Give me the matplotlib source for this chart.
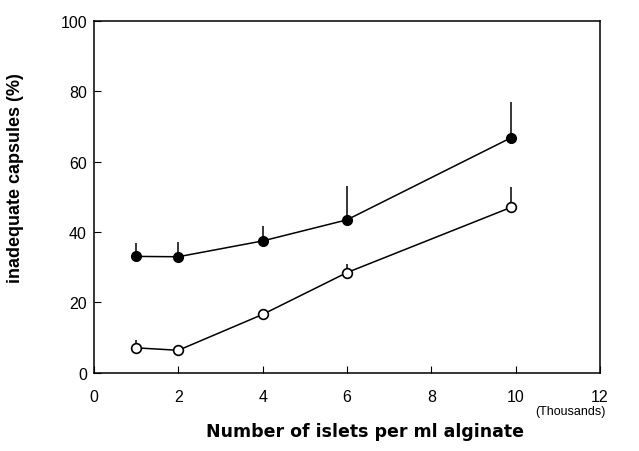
import numpy as np
import matplotlib.pyplot as plt

plt.rcParams['font.family'] = ['Liberation Sans', 'DejaVu Sans']

# islets per ml alginate (thousands)
x_vals = [1, 2, 4, 6, 9.9]
filled_y = [33.1, 33.0, 37.5, 43.5, 66.9]
filled_err = [3.8, 4.3, 4.3, 9.5, 10.0]
open_y = [7.1, 6.4, 16.6, 28.5, 47.1]
open_err = [2.1, 0.0, 0.0, 2.5, 5.7]

fig = plt.figure(figsize=(6.39, 4.52), dpi=100)
ax = fig.add_axes([0.147, 0.173, 0.792, 0.778])

ax.errorbar(x_vals, filled_y, yerr=[np.zeros(5), filled_err], fmt='-o',
            color='black', mfc='black', mec='black', ms=7, lw=1.1,
            elinewidth=1.1, capsize=0)
ax.errorbar(x_vals, open_y, yerr=[np.zeros(5), open_err], fmt='-o',
            color='black', mfc='white', mec='black', ms=7, mew=1.2, lw=1.1,
            elinewidth=1.1, capsize=0)

ax.set_xlim(0, 12)
ax.set_ylim(0, 100)
ax.set_xticks(range(0, 13, 2))
ax.set_yticks(range(0, 101, 20))
ax.tick_params(direction='in', length=5, labelsize=11.5)
ax.tick_params(axis='x', pad=12)
ax.tick_params(axis='y', pad=5)
for s in ax.spines.values():
    s.set_linewidth(1.1)

# axis titles placed in figure coords to match the original layout
fig.text(0.024, 0.605, 'inadequate capsules (%)', rotation=90, ha='center',
         va='center', fontsize=13, fontweight='bold')
fig.text(0.571, 0.044, 'Number of islets per ml alginate', ha='center',
         va='center', fontsize=12.5, fontweight='bold', family='DejaVu Sans')
ax.text(11.3, -11, '(Thousands)', ha='center', va='center', fontsize=9)

fig.savefig('out.png', dpi=100)
